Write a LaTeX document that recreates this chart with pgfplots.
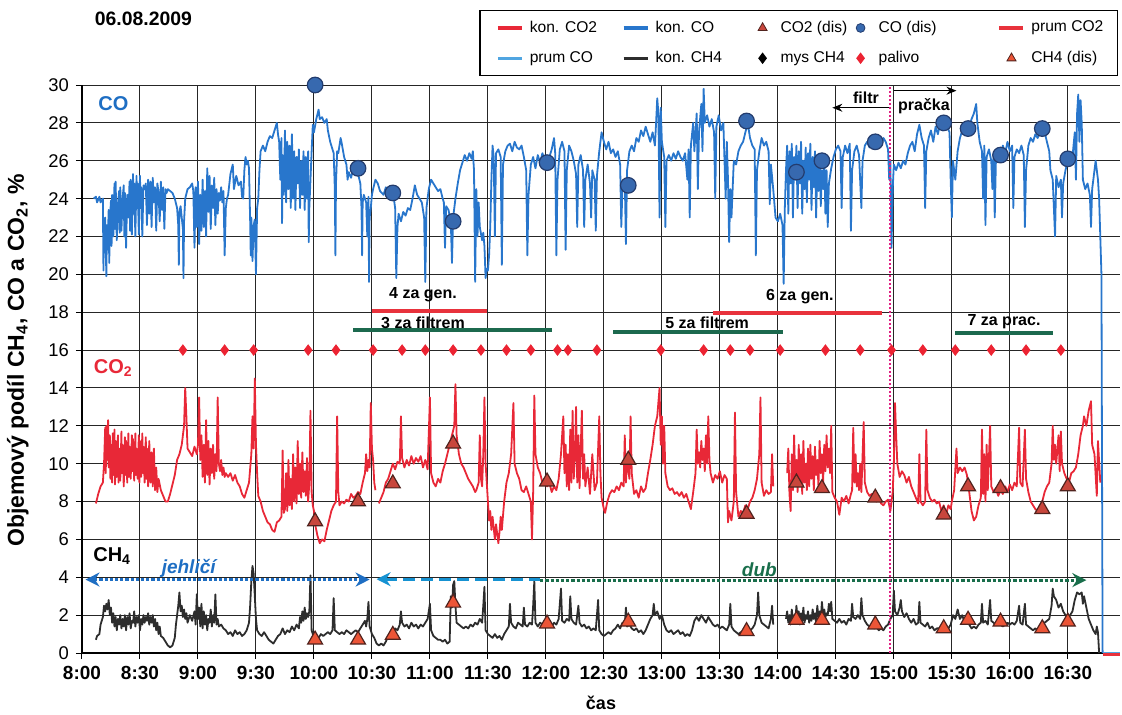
\documentclass[border=0pt]{standalone}
\usepackage{fontspec}
\setmainfont{Liberation Sans}
\usepackage{pgfplots}
\pgfplotsset{compat=1.18}
\usetikzlibrary{arrows.meta}

\definecolor{coline}{RGB}{40,118,204}
\definecolor{coprum}{RGB}{80,165,225}
\definecolor{codot}{RGB}{55,105,175}
\definecolor{codotdark}{RGB}{35,60,110}
\definecolor{coline2}{RGB}{232,40,55}
\definecolor{cotri}{RGB}{200,70,60}
\definecolor{chtri}{RGB}{236,85,55}
\definecolor{tridark}{RGB}{80,35,30}
\definecolor{chline}{RGB}{45,45,45}
\definecolor{palred}{RGB}{236,35,50}
\definecolor{cotext}{RGB}{30,110,195}
\definecolor{dubgreen}{RGB}{25,110,75}
\definecolor{barred}{RGB}{232,50,60}
\definecolor{bargreen}{RGB}{28,105,78}
\definecolor{magline}{RGB}{225,30,130}

\pgfplotsset{
  legline/.style={legend image code/.code={\path[draw=none,fill=none] (0pt,-3pt) rectangle (12pt,3pt); \draw[##1] (0pt,0pt) -- (12pt,0pt);}},
  legmark/.style={legend image code/.code={\path[draw=none,fill=none] (0pt,-3pt) rectangle (12pt,3pt); \draw[##1] plot coordinates {(6pt,0pt)};}},
}

\begin{document}
\begin{tikzpicture}
\begin{axis}[
  at={(0,0)}, anchor=south west,
  scale only axis, width=519pt, height=284pt,
  xmin=8, xmax=16.95, ymin=0, ymax=30,
  clip=false,
  axis x line*=bottom, axis y line*=left,
  axis line style={black, line width=0.6pt},
  xtick={8,8.5,...,16.5},
  xticklabels={8:00,8:30,9:00,9:30,10:00,10:30,11:00,11:30,12:00,12:30,13:00,13:30,14:00,14:30,15:00,15:30,16:00,16:30},
  ytick={0,2,...,30},
  /pgf/number format/assume math mode=true,
  tick align=outside, major tick length=3pt,
  tick style={black, line width=0.5pt},
  grid=major,
  major grid style={black!85, line width=0.5pt},
  x tick label style={font=\fontsize{9.5}{11}\selectfont\bfseries},
  y tick label style={font=\fontsize{9.2}{11}\selectfont},
  xlabel={čas},
  xlabel style={at={(axis description cs:0.5,0)}, anchor=center, yshift=-25pt, font=\fontsize{9}{11}\selectfont\bfseries},
  ylabel={Objemový podíl CH\textsubscript{4}, CO a CO\textsubscript{2}, \%},
  ylabel style={at={(axis description cs:-0.0617,0.515)}, anchor=center, rotate=0, font=\fontsize{11.5}{13}\selectfont\bfseries},
  legend columns=5,
  legend cell align=left,
  legend style={at={(1,1)}, anchor=south east, yshift=4.5pt, xshift=-1pt,
    draw=black, line width=0.6pt, fill=white,
    font=\fontsize{7.8}{9}\selectfont,
    inner xsep=8pt, inner ysep=3pt, row sep=4pt,
    /tikz/every odd column/.append style={column sep=1pt},
    /tikz/every even column/.append style={column sep=0pt}},
]

% legend entries
\addlegendimage{legline, draw=coline2, line width=1.9pt}
\addlegendentry{\makebox[44pt][l]{kon. CO2}}
\addlegendimage{legline, draw=coline, line width=1.9pt}
\addlegendentry{\makebox[45.5pt][l]{kon. CO}}
\addlegendimage{only marks, legmark, mark=triangle*, mark size=2.6pt, mark options={fill=cotri, draw=tridark, line width=0.4pt}}
\addlegendentry{\makebox[32pt][l]{CO2 (dis)}}
\addlegendimage{only marks, legmark, mark=*, mark size=2.2pt, mark options={fill=codot, draw=codotdark, line width=0.4pt}}
\addlegendentry{\makebox[57.5pt][l]{CO (dis)}}
\addlegendimage{legline, draw=barred, line width=1.9pt}
\addlegendentry{\makebox[33pt][l]{prum CO2}}
\addlegendimage{legline, draw=coprum, line width=1.6pt}
\addlegendentry{\makebox[44pt][l]{prum CO}}
\addlegendimage{legline, draw=chline, line width=1.6pt}
\addlegendentry{\makebox[45.5pt][l]{kon. CH4}}
\addlegendimage{only marks, legmark, mark=diamond*, mark size=2.4pt, mark options={fill=black, draw=black}}
\addlegendentry{\makebox[32pt][l]{mys CH4}}
\addlegendimage{only marks, legmark, mark=diamond*, mark size=2.4pt, mark options={fill=palred, draw=palred}}
\addlegendentry{\makebox[57.5pt][l]{palivo}}
\addlegendimage{only marks, legmark, mark=triangle*, mark size=2.6pt, mark options={fill=chtri, draw=tridark, line width=0.4pt}}
\addlegendentry{\makebox[33pt][l]{CH4 (dis)}}

% kon. CO
\addplot[forget plot, coline, line width=0.9pt, line join=round] coordinates {
(8.10,24.0)(8.12,24.1)(8.13,23.8)(8.15,24.1)(8.16,23.8)(8.18,24.0)
(8.185,20.2)(8.19,22.8)(8.20,23.0)(8.21,19.9)(8.215,22.6)(8.22,21.3)(8.23,23.4)(8.235,20.6)(8.24,22.8)(8.25,23.9)(8.255,21.5)(8.26,24.2)(8.27,22.0)(8.28,24.8)(8.285,22.4)(8.29,24.9)(8.30,21.8)(8.31,23.7)(8.32,24.4)(8.325,22.2)(8.33,24.6)(8.34,22.3)
(8.35,24.0)(8.36,24.7)(8.365,22.0)(8.37,24.3)(8.38,21.4)(8.39,24.2)(8.40,23.0)(8.41,24.9)(8.415,22.3)(8.42,25.0)(8.43,22.1)(8.44,25.3)(8.445,23.2)(8.45,24.8)(8.46,22.0)(8.47,25.2)(8.475,23.5)(8.48,24.8)(8.49,22.1)(8.50,25.2)(8.505,23.5)(8.51,24.6)(8.52,22.0)(8.53,24.7)(8.54,24.5)
(8.55,24.8)(8.56,22.6)(8.57,25.0)(8.58,23.2)(8.59,24.9)(8.60,22.5)(8.61,25.1)(8.62,23.8)(8.63,24.6)(8.64,22.3)(8.65,24.8)(8.66,24.3)(8.67,22.8)(8.68,24.9)(8.69,23.4)(8.70,24.6)(8.71,22.4)(8.72,24.5)(8.73,24.3)(8.74,24.5)
(8.76,24.4)(8.78,24.3)(8.80,24.0)(8.82,23.5)(8.83,22.6)(8.835,20.5)(8.84,23.3)(8.85,23.6)(8.86,23.0)(8.87,22.4)(8.875,19.8)(8.88,22.8)(8.89,24.0)(8.91,24.5)(8.93,24.6)(8.95,24.8)(8.96,24.4)
(8.97,21.4)(8.98,24.6)(8.99,22.5)(9.00,24.9)(9.01,21.6)(9.02,24.2)(9.03,22.3)(9.04,25.0)(9.05,22.5)(9.06,24.4)(9.07,22.0)(9.08,25.6)(9.09,23.3)(9.10,25.2)(9.11,22.4)(9.12,24.7)(9.13,23.5)(9.14,25.1)(9.15,22.6)(9.16,24.5)(9.17,23.2)(9.18,24.3)(9.19,23.9)(9.20,24.6)(9.21,23.8)(9.22,24.4)(9.23,21.0)(9.24,23.5)(9.25,24.0)(9.26,24.2)
(9.28,25.3)(9.30,25.8)(9.31,24.5)(9.33,25.2)(9.35,24.7)(9.37,24.9)(9.38,24.1)(9.39,24.0)(9.40,25.5)(9.41,26.2)(9.42,25.8)(9.43,26.0)(9.44,25.6)
(9.45,22.8)(9.455,21.0)(9.46,23.0)(9.47,20.7)(9.48,22.6)(9.49,22.9)(9.50,20.0)(9.51,23.5)(9.52,24.0)(9.53,25.5)(9.54,26.5)(9.56,26.8)(9.58,26.5)(9.60,27.0)(9.62,27.3)(9.64,27.2)(9.66,27.6)(9.68,28.0)(9.69,27.4)
(9.70,27.0)(9.71,25.0)(9.72,27.2)(9.725,22.7)(9.73,26.3)(9.74,24.2)(9.75,27.6)(9.76,23.8)(9.77,27.0)(9.78,24.5)(9.79,26.8)(9.80,23.5)(9.81,27.4)(9.82,24.0)(9.83,26.5)(9.84,23.4)(9.85,26.2)(9.86,24.8)(9.87,26.6)(9.88,23.5)(9.89,26.0)(9.90,24.2)(9.91,26.5)(9.92,23.4)(9.93,26.2)(9.94,24.0)(9.95,26.5)(9.955,21.7)(9.96,23.5)
(9.98,26.5)(9.99,27.9)(10.00,27.5)(10.02,28.2)(10.04,28.7)(10.05,28.2)(10.07,28.3)(10.09,28.0)(10.11,28.2)(10.12,27.6)(10.14,27.0)(10.16,26.6)(10.17,26.4)(10.18,24.5)(10.185,21.0)(10.19,24.8)(10.20,26.5)(10.21,26.4)(10.22,26.8)(10.23,27.2)(10.24,26.9)(10.26,26.2)(10.28,25.8)(10.29,25.0)(10.30,25.4)(10.32,25.1)(10.34,25.6)(10.36,25.5)(10.38,25.3)(10.40,24.8)(10.41,23.5)(10.415,21.0)(10.42,23.8)(10.43,24.2)(10.44,24.0)(10.45,23.8)(10.46,22.0)(10.47,24.1)(10.475,19.6)(10.48,23.0)(10.49,23.5)(10.50,24.2)(10.51,24.5)(10.53,25.0)(10.55,24.8)
(10.57,24.4)(10.60,24.2)(10.62,24.6)(10.64,24.3)(10.66,24.5)(10.68,24.4)(10.70,23.5)(10.71,19.8)(10.72,22.5)(10.73,23.2)(10.75,22.8)(10.77,23.3)(10.79,23.1)(10.81,23.5)(10.83,23.4)(10.85,24.0)(10.87,24.7)(10.89,24.2)(10.91,24.0)(10.93,23.8)(10.95,23.0)(10.96,19.6)(10.97,23.5)(10.99,24.5)(11.01,25.0)(11.03,24.8)(11.05,24.6)(11.07,24.4)(11.09,24.5)(11.11,24.0)(11.12,23.8)(11.13,21.4)(11.14,23.6)(11.16,23.4)(11.18,22.8)(11.19,20.6)(11.20,23.0)(11.22,24.0)(11.24,24.8)(11.26,25.5)(11.28,25.9)(11.30,26.3)(11.32,26.0)(11.34,26.4)(11.36,26.1)(11.37,26.5)(11.38,25.5)(11.39,19.6)(11.40,24.5)(11.41,22.0)(11.42,23.8)(11.43,22.5)(11.45,21.8)(11.46,22.2)(11.47,21.5)(11.48,19.8)(11.49,20.3)(11.50,20.2)(11.51,21.0)(11.52,22.5)(11.53,25.0)(11.54,26.8)(11.55,26.2)(11.56,22.0)(11.57,26.4)(11.59,26.6)(11.61,26.2)(11.62,20.5)(11.63,25.8)(11.65,26.5)(11.67,26.8)(11.69,26.9)(11.71,26.5)(11.73,27.0)(11.75,26.7)(11.77,26.6)(11.79,26.8)(11.81,26.2)(11.83,25.5)(11.84,21.0)(11.85,24.2)(11.87,25.8)(11.89,26.2)(11.91,25.6)(11.93,26.3)(11.95,25.9)(11.97,26.4)(11.99,26.0)(12.01,25.5)(12.03,26.2)(12.05,26.6)(12.07,27.2)(12.08,26.4)(12.09,21.0)(12.10,25.0)(12.12,26.6)(12.14,27.0)(12.16,26.5)(12.17,21.3)(12.18,25.5)(12.20,26.8)(12.22,26.5)(12.24,26.0)(12.26,25.3)(12.27,22.5)(12.28,25.8)(12.30,26.3)(12.32,25.5)(12.33,22.5)(12.34,25.0)(12.36,25.8)(12.38,24.8)(12.39,23.0)(12.40,25.5)(12.42,25.0)(12.43,22.3)(12.44,25.2)(12.46,26.5)(12.48,27.5)(12.50,27.0)(12.52,26.6)(12.54,27.0)(12.56,26.4)(12.58,26.6)(12.60,26.2)(12.62,26.5)(12.64,25.8)(12.65,22.5)(12.66,24.6)(12.68,25.0)(12.69,21.6)(12.70,25.5)(12.72,26.5)(12.74,26.8)(12.76,26.5)(12.78,27.2)(12.80,27.0)(12.82,27.6)(12.84,27.3)(12.86,27.8)(12.88,27.4)(12.90,27.0)(12.92,27.5)(12.94,26.8)(12.95,28.0)(12.96,29.3)(12.97,28.5)(12.98,23.0)(12.99,28.8)(13.00,27.0)(13.02,26.2)(13.03,22.5)(13.04,26.0)(13.06,26.3)(13.08,26.0)(13.10,26.4)(13.12,26.1)(13.14,26.5)(13.16,26.2)(13.18,26.0)(13.20,26.4)(13.22,25.0)(13.23,26.6)(13.24,23.0)(13.25,26.8)(13.27,28.0)(13.28,26.5)(13.30,28.5)(13.31,24.5)(13.32,27.5)(13.34,29.0)(13.35,26.5)(13.36,29.8)(13.37,28.0)(13.39,28.4)(13.41,27.8)(13.43,28.2)(13.45,27.5)(13.46,24.0)(13.47,27.8)(13.49,28.4)(13.51,27.6)(13.53,28.0)(13.55,24.0)(13.56,27.0)(13.57,25.0)(13.58,21.7)(13.59,24.5)(13.60,23.0)(13.62,26.0)(13.64,25.8)(13.66,26.5)(13.68,26.8)(13.70,27.0)(13.72,27.5)(13.74,28.0)
(13.76,27.2)(13.78,26.8)(13.80,26.6)(13.81,21.0)(13.82,25.5)(13.84,26.5)(13.86,27.2)(13.88,26.8)(13.90,27.0)(13.92,26.5)(13.93,23.7)(13.94,25.8)(13.96,24.5)(13.98,23.0)(14.00,22.8)(14.02,23.2)(14.04,22.6)(14.05,19.5)(14.06,23.5)(14.07,25.5)(14.08,26.8)(14.09,23.2)(14.10,26.5)(14.11,24.8)(14.12,26.9)(14.13,23.0)(14.14,26.2)(14.15,25.0)(14.16,26.8)(14.17,23.5)(14.18,26.5)(14.19,24.8)(14.20,27.0)(14.21,23.2)(14.22,26.0)(14.23,24.5)(14.24,26.7)(14.25,23.8)(14.26,26.4)(14.27,25.0)(14.28,26.9)(14.29,23.4)(14.30,26.2)(14.31,24.6)(14.32,26.5)(14.33,23.0)(14.34,25.8)(14.35,24.4)(14.36,26.3)(14.37,23.6)(14.38,25.5)(14.39,24.5)(14.40,26.0)(14.41,23.2)(14.42,25.5)(14.43,22.5)(14.44,24.8)(14.46,25.6)(14.48,26.2)(14.50,26.6)(14.52,26.8)(14.54,26.5)(14.55,23.5)(14.56,26.2)(14.58,26.8)(14.60,26.4)(14.62,26.9)(14.63,22.3)(14.64,25.5)(14.66,26.5)(14.68,26.8)(14.70,26.3)(14.72,23.5)(14.73,26.0)(14.75,26.8)(14.77,27.0)(14.79,26.7)(14.81,27.2)(14.83,26.8)(14.85,26.9)(14.87,27.1)(14.89,26.8)(14.91,27.2)(14.93,27.0)(14.95,26.6)(14.96,25.0)(14.97,26.0)(14.98,21.4)(14.99,24.5)(15.00,25.8)(15.02,25.5)(15.04,25.9)(15.06,25.6)(15.08,26.0)(15.10,25.8)(15.12,26.4)(15.14,26.8)(15.16,27.0)(15.18,26.5)(15.20,27.4)(15.22,27.9)(15.24,27.2)(15.26,26.8)(15.27,23.5)(15.28,26.5)(15.30,27.2)(15.32,27.6)(15.34,27.0)(15.36,27.8)(15.38,27.4)(15.40,28.0)(15.42,27.6)(15.44,28.3)(15.46,27.8)(15.48,27.5)(15.49,25.0)(15.50,23.0)(15.51,26.0)(15.53,25.0)(15.55,26.5)(15.57,27.2)(15.59,27.6)(15.61,27.8)(15.63,28.0)(15.65,27.8)(15.67,28.2)(15.69,28.5)(15.71,29.0)(15.72,28.0)(15.74,27.0)(15.76,26.5)(15.77,24.0)(15.78,26.8)(15.79,22.6)(15.80,26.2)(15.82,26.6)(15.84,26.0)(15.85,24.5)(15.86,26.4)(15.87,23.0)(15.88,26.0)(15.90,26.6)(15.92,26.2)(15.94,26.8)(15.96,26.4)(15.98,27.0)(16.00,26.5)(16.02,26.8)(16.03,23.5)(16.04,26.2)(16.06,26.6)(16.08,26.4)(16.10,26.8)(16.12,26.3)(16.13,22.5)(16.14,25.5)(16.16,26.8)(16.18,27.2)(16.20,27.0)(16.22,27.4)(16.24,27.2)(16.26,27.5)(16.28,27.3)(16.30,27.5)(16.32,27.0)(16.34,26.5)(16.35,25.5)(16.37,25.0)(16.39,22.0)(16.40,25.2)(16.42,24.6)(16.44,25.0)(16.45,23.0)(16.46,24.8)(16.48,25.5)(16.50,26.0)(16.52,26.4)(16.54,26.2)(16.56,27.5)(16.57,25.0)(16.58,28.5)(16.59,29.5)(16.60,27.0)(16.61,29.2)(16.62,28.0)(16.63,25.0)(16.65,24.5)(16.67,24.8)(16.69,24.2)(16.70,22.5)(16.71,24.5)(16.73,25.5)(16.74,26.0)(16.76,25.0)(16.77,24.0)(16.79,20.0)(16.80,0)
};

% kon. CO2
\addplot[forget plot, coline2, line width=0.9pt, line join=round, unbounded coords=jump] coordinates {
(8.12,7.9)(8.14,8.4)(8.16,8.8)(8.18,9.0)(8.19,10.0)(8.20,11.9)(8.205,9.5)(8.21,12.0)(8.22,10.2)(8.225,12.3)(8.23,9.8)(8.24,11.5)(8.245,9.2)(8.25,11.0)(8.26,9.0)(8.265,11.6)(8.27,9.4)(8.28,11.8)(8.285,8.9)(8.29,11.2)(8.30,9.3)(8.31,11.5)(8.315,9.0)(8.32,10.8)(8.33,9.1)(8.34,11.7)(8.345,9.5)(8.35,11.0)(8.36,8.8)(8.37,11.4)(8.375,9.4)(8.38,11.2)(8.39,9.0)(8.40,11.6)(8.405,9.3)(8.41,10.9)(8.42,9.2)(8.43,11.5)(8.435,9.6)(8.44,11.3)(8.45,9.1)(8.46,11.6)(8.465,9.4)(8.47,10.8)(8.48,9.2)(8.49,11.5)(8.495,9.0)(8.50,11.2)(8.51,9.3)(8.52,11.6)(8.525,9.5)(8.53,10.9)(8.54,9.0)(8.55,11.4)(8.555,9.2)(8.56,10.8)(8.57,8.8)(8.58,11.2)(8.59,9.0)(8.60,10.6)(8.61,8.8)(8.62,10.8)(8.63,8.6)(8.64,9.8)(8.65,8.5)(8.66,9.2)(8.68,8.6)(8.70,8.3)(8.72,8.0)(8.74,8.0)(8.76,8.4)(8.78,8.9)(8.80,9.4)(8.82,10.2)(8.84,10.5)(8.86,11.0)(8.88,12.0)(8.89,14.0)(8.90,12.5)(8.91,10.8)(8.93,10.6)(8.95,10.4)(8.97,10.9)(8.99,10.5)(9.00,11.0)(9.01,13.5)(9.02,10.2)(9.03,11.5)(9.04,9.3)(9.05,11.0)(9.06,9.0)(9.07,12.3)(9.08,9.4)(9.09,11.2)(9.10,8.9)(9.11,10.8)(9.12,9.5)(9.13,11.0)(9.14,9.2)(9.15,10.5)(9.16,9.6)(9.17,13.5)(9.18,10.0)(9.19,9.6)(9.20,10.2)(9.21,9.4)(9.22,9.8)(9.23,9.3)(9.24,9.5)(9.26,9.3)(9.28,9.5)(9.30,9.1)(9.32,9.4)(9.34,9.0)(9.36,8.8)(9.38,8.4)(9.40,8.2)(9.42,8.6)(9.44,9.0)(9.46,10.5)(9.47,12.5)(9.48,10.8)(9.49,14.5)(9.50,11.0)(9.51,9.5)(9.52,8.3)(9.54,8.0)(9.56,7.5)(9.58,7.2)(9.60,6.9)(9.62,6.8)(9.64,6.5)(9.66,6.4)(9.68,6.9)(9.70,7.0)(9.72,7.2)(9.73,10.7)(9.74,7.4)(9.75,7.6)(9.76,9.5)(9.77,7.5)(9.78,10.2)(9.79,7.8)(9.80,9.2)(9.81,7.6)(9.82,10.5)(9.83,8.0)(9.84,9.8)(9.85,7.9)(9.86,11.2)(9.87,8.4)(9.88,10.0)(9.89,8.2)(9.90,10.6)(9.91,8.5)(9.92,9.6)(9.93,8.3)(9.94,10.3)(9.95,8.0)(9.96,9.0)(9.97,12.8)(9.98,8.5)(9.99,7.8)(10.00,7.5)(10.01,6.8)(10.03,6.2)(10.05,5.8)(10.07,6.0)(10.09,5.9)(10.11,6.5)(10.13,7.0)(10.15,7.5)(10.17,7.8)(10.19,8.0)(10.20,12.5)(10.21,8.5)(10.22,7.8)(10.24,8.0)(10.26,7.9)(10.28,8.1)(10.30,8.0)(10.32,8.4)(10.34,8.2)(10.36,8.3)(10.38,8.5)(10.40,8.4)(10.42,9.0)(10.44,9.5)(10.45,10.5)(10.46,9.6)(10.47,10.2)(10.48,9.8)(10.49,13.2)(10.50,10.8)(10.51,10.2)(10.52,9.0)(10.53,8.6)(10.545,nan)
(10.56,7.9)(10.58,8.2)(10.60,8.5)(10.62,9.0)(10.64,9.2)(10.66,9.6)(10.68,10.0)(10.70,9.7)(10.72,10.1)(10.74,10.0)(10.75,12.5)(10.76,10.3)(10.78,9.8)(10.80,10.2)(10.82,9.9)(10.84,10.4)(10.86,10.0)(10.88,10.3)(10.90,10.1)(10.92,10.4)(10.94,9.8)(10.96,10.2)(10.98,9.7)(11.00,13.5)(11.01,9.5)(11.03,9.0)(11.05,8.8)(11.07,9.2)(11.09,9.0)(11.11,9.6)(11.13,10.0)(11.15,10.5)(11.17,11.0)(11.19,11.5)(11.21,12.0)(11.22,14.2)(11.23,11.5)(11.25,10.5)(11.27,10.0)(11.29,9.8)(11.31,9.5)(11.33,9.2)(11.35,9.0)(11.37,8.8)(11.39,8.5)
(11.40,8.6)(11.42,9.0)(11.43,11.5)(11.44,9.2)(11.45,8.8)(11.46,10.5)(11.47,13.5)(11.48,10.0)(11.50,8.0)(11.51,7.0)(11.52,7.5)(11.53,6.5)(11.54,7.2)(11.56,6.0)(11.57,6.8)(11.59,5.8)(11.60,6.4)(11.61,7.2)(11.62,6.5)(11.64,8.0)(11.66,9.0)(11.68,9.5)(11.70,10.5)(11.72,13.2)(11.73,10.0)(11.75,9.5)(11.77,9.2)(11.79,8.6)(11.81,8.5)(11.83,8.8)(11.85,8.4)(11.87,8.0)(11.88,6.0)(11.89,8.5)(11.90,13.6)(11.91,10.5)(11.93,9.8)(11.95,9.5)(11.97,9.0)(11.99,9.2)(12.01,8.8)(12.03,9.0)(12.05,8.5)(12.07,8.8)(12.09,8.6)(12.11,9.2)(12.13,10.5)(12.15,12.5)(12.16,9.5)(12.17,11.0)(12.18,8.8)(12.19,10.5)(12.20,8.6)(12.21,11.8)(12.22,9.0)(12.23,12.8)(12.24,9.2)(12.25,10.4)(12.26,13.0)(12.27,9.0)(12.28,11.5)(12.29,8.7)(12.30,10.8)(12.31,12.8)(12.32,9.2)(12.33,10.5)(12.34,8.8)(12.36,9.8)(12.38,8.4)(12.40,10.5)(12.42,8.6)(12.44,9.0)(12.46,12.5)(12.47,9.5)(12.48,8.2)(12.50,7.6)(12.51,7.4)(12.53,8.0)(12.55,8.4)(12.57,8.6)(12.59,8.5)(12.61,8.8)(12.63,8.6)(12.65,9.0)(12.67,8.8)(12.68,11.5)(12.69,9.0)(12.70,10.2)(12.72,9.2)(12.73,12.5)(12.74,9.5)(12.76,8.4)(12.78,8.6)(12.80,8.2)(12.82,8.8)(12.84,8.5)(12.86,8.7)(12.88,9.5)(12.90,10.2)(12.92,11.0)(12.94,12.0)(12.96,12.5)(12.98,14.0)(12.99,11.0)(13.00,12.5)(13.01,10.0)(13.02,12.0)(13.03,9.5)(13.05,8.8)(13.07,8.6)(13.09,8.7)(13.11,8.4)(13.13,8.5)(13.15,8.3)(13.17,8.5)(13.19,8.2)(13.21,8.4)(13.23,8.0)(13.24,7.8)(13.25,7.6)(13.27,8.5)(13.29,9.5)(13.30,11.8)(13.31,10.0)(13.32,10.6)(13.33,9.8)(13.34,11.2)(13.35,10.2)(13.36,10.8)(13.37,9.6)(13.38,11.5)(13.39,10.0)(13.40,12.5)(13.41,10.2)(13.42,9.5)(13.44,9.0)(13.46,9.4)(13.48,9.2)(13.50,9.6)(13.52,9.0)(13.54,9.4)(13.56,9.2)(13.57,6.9)(13.58,7.5)(13.60,7.0)(13.62,8.0)(13.63,12.7)(13.64,8.5)(13.66,7.2)(13.68,7.5)(13.70,7.4)(13.72,7.8)(13.74,7.6)(13.76,8.0)(13.78,8.2)(13.80,8.6)(13.82,9.2)(13.84,10.5)(13.85,13.5)(13.86,9.0)(13.88,8.3)(13.90,8.6)(13.92,8.4)(13.94,8.5)(13.95,10.5)(13.96,8.8)(14.00,nan)
(14.08,9.5)(14.09,10.8)(14.10,8.4)(14.11,7.5)(14.12,10.5)(14.13,8.6)(14.14,11.5)(14.15,9.0)(14.16,10.2)(14.17,8.5)(14.18,11.0)(14.19,8.8)(14.20,10.5)(14.21,8.4)(14.22,11.2)(14.23,9.0)(14.24,10.0)(14.25,8.6)(14.26,10.8)(14.27,8.8)(14.28,11.0)(14.29,9.2)(14.30,10.4)(14.31,8.6)(14.32,10.9)(14.33,9.4)(14.34,10.2)(14.35,8.8)(14.36,11.2)(14.37,9.5)(14.38,10.5)(14.39,9.0)(14.40,11.0)(14.41,9.6)(14.42,11.5)(14.43,9.8)(14.44,10.8)(14.45,9.5)(14.46,12.0)(14.47,8.5)(14.49,8.2)(14.51,8.0)(14.53,7.3)(14.55,8.2)(14.57,8.0)(14.59,8.3)(14.61,7.9)(14.63,8.4)(14.64,8.6)(14.65,11.9)(14.66,9.0)(14.67,10.5)(14.68,8.8)(14.69,9.5)(14.70,8.6)(14.71,10.0)(14.72,8.5)(14.74,12.2)(14.75,9.0)(14.77,8.5)(14.79,8.3)(14.81,8.4)(14.83,8.2)(14.85,8.0)(14.87,8.2)(14.89,7.9)(14.91,7.8)(14.93,8.0)(14.95,8.1)(14.97,7.5)(14.99,8.5)(15.00,10.0)(15.01,13.2)(15.02,11.5)(15.03,10.0)(15.05,9.3)(15.07,9.6)(15.09,9.4)(15.11,9.0)(15.13,9.3)(15.15,8.8)(15.17,8.5)(15.19,8.2)(15.21,7.9)(15.22,10.5)(15.23,8.0)(15.25,7.8)(15.27,8.0)(15.28,11.8)(15.29,8.6)(15.31,8.2)(15.33,8.0)(15.35,8.1)(15.37,7.9)(15.39,8.0)(15.41,7.5)(15.43,7.8)(15.45,7.3)(15.47,7.8)(15.49,7.6)(15.50,8.0)(15.52,8.6)(15.54,10.8)(15.55,9.5)(15.57,9.8)(15.59,9.6)(15.61,9.8)(15.63,9.4)(15.65,8.5)(15.67,7.5)(15.69,7.0)(15.71,7.2)(15.73,7.8)(15.75,8.2)(15.76,11.8)(15.77,8.4)(15.78,10.5)(15.79,8.0)(15.80,11.0)(15.81,8.6)(15.83,12.0)(15.84,8.8)(15.86,8.5)(15.88,8.7)(15.90,8.3)(15.92,8.6)(15.94,8.4)(15.96,8.8)(15.98,8.5)(16.00,8.9)(16.02,8.6)(16.04,9.0)(16.06,8.8)(16.08,11.9)(16.09,9.0)(16.11,8.8)(16.13,11.8)(16.14,9.2)(16.16,8.5)(16.18,8.0)(16.20,7.8)(16.22,7.6)(16.24,7.5)(16.26,7.8)(16.28,8.0)(16.30,8.5)(16.32,8.8)(16.34,9.0)(16.36,10.0)(16.37,12.0)(16.38,10.2)(16.39,11.0)(16.40,10.0)(16.42,11.5)(16.43,9.6)(16.44,11.7)(16.45,10.0)(16.47,9.5)(16.49,9.2)(16.51,9.0)(16.53,9.5)(16.55,9.6)(16.57,9.8)(16.59,10.5)(16.61,11.5)(16.63,12.0)(16.64,12.5)(16.66,12.0)(16.68,12.8)(16.70,13.3)(16.71,11.0)(16.73,10.5)(16.75,8.3)(16.76,11.2)(16.78,9.0)
};

% kon. CH4
\addplot[forget plot, chline, line width=0.9pt, line join=round, unbounded coords=jump] coordinates {
(8.12,0.7)(8.13,0.9)(8.15,1.0)(8.16,1.5)(8.18,1.9)(8.19,2.5)(8.20,2.2)(8.21,2.6)(8.22,2.3)(8.23,2.8)(8.24,2.0)(8.25,2.4)(8.26,1.6)(8.27,2.1)(8.28,1.4)(8.29,1.9)(8.30,1.2)(8.31,1.8)(8.32,1.5)(8.33,2.0)(8.34,1.3)(8.35,1.8)(8.36,1.4)(8.37,2.0)(8.38,1.2)(8.39,1.9)(8.40,1.5)(8.41,2.1)(8.42,1.3)(8.43,1.7)(8.44,1.6)(8.45,2.2)(8.46,1.4)(8.47,1.9)(8.48,1.6)(8.49,2.0)(8.50,1.2)(8.51,1.8)(8.52,1.5)(8.53,2.0)(8.54,1.6)(8.55,1.9)(8.56,1.7)(8.57,2.1)(8.58,1.5)(8.59,1.9)(8.60,1.6)(8.61,2.0)(8.62,1.4)(8.63,1.8)(8.64,1.2)(8.65,1.6)(8.66,1.0)(8.67,1.4)(8.68,0.9)(8.70,0.8)(8.72,0.6)(8.74,0.4)(8.76,0.3)(8.78,0.4)(8.80,0.8)(8.81,1.5)(8.82,2.0)(8.83,2.5)(8.84,3.2)(8.85,2.2)(8.86,2.5)(8.87,1.9)(8.88,2.3)(8.89,1.8)(8.90,2.1)(8.91,1.6)(8.93,2.0)(8.95,1.7)(8.97,2.2)(8.98,1.5)(8.99,3.1)(9.00,1.8)(9.01,2.4)(9.02,1.4)(9.03,2.6)(9.04,1.3)(9.05,2.2)(9.06,1.5)(9.07,2.0)(9.08,1.2)(9.09,1.8)(9.10,1.6)(9.11,2.3)(9.12,1.4)(9.13,2.0)(9.14,1.6)(9.15,3.1)(9.16,1.5)(9.17,1.8)(9.18,1.4)(9.20,1.5)(9.22,1.3)(9.24,1.2)(9.26,1.0)(9.28,1.1)(9.30,0.9)(9.32,1.2)(9.34,1.0)(9.36,1.1)(9.38,0.9)(9.40,1.0)(9.42,1.2)(9.44,1.6)(9.45,2.5)(9.46,3.8)(9.47,4.6)(9.48,4.2)(9.49,3.0)(9.50,1.8)(9.51,1.2)(9.53,1.0)(9.55,0.9)(9.57,1.1)(9.59,0.9)(9.61,0.7)(9.63,0.6)(9.65,0.5)(9.67,0.7)(9.69,0.9)(9.71,1.0)(9.73,1.3)(9.75,1.0)(9.77,1.2)(9.79,1.1)(9.81,1.4)(9.83,1.2)(9.85,1.5)(9.87,1.3)(9.88,1.9)(9.89,1.6)(9.90,2.2)(9.91,1.7)(9.92,2.4)(9.93,1.8)(9.94,2.1)(9.95,1.9)(9.96,2.2)(9.97,4.1)(9.98,1.2)(10.00,0.8)(10.02,0.9)(10.04,0.8)(10.06,1.0)(10.08,0.9)(10.10,1.0)(10.12,1.1)(10.14,1.0)(10.16,1.2)(10.17,2.9)(10.18,1.2)(10.20,1.1)(10.22,1.0)(10.24,1.1)(10.26,1.0)(10.28,1.2)(10.30,1.1)(10.32,1.0)(10.34,1.1)(10.36,1.2)(10.38,1.1)(10.40,1.3)(10.42,1.5)(10.44,1.7)(10.45,1.4)(10.46,1.8)(10.47,2.7)(10.48,1.4)(10.50,1.0)(10.52,0.8)(10.54,0.5)(10.56,0.4)(10.58,0.5)(10.60,0.4)(10.62,0.6)(10.64,0.9)(10.66,1.0)(10.68,1.1)(10.70,1.3)(10.72,1.2)(10.74,1.5)(10.75,2.2)(10.76,1.6)(10.78,1.4)(10.80,1.5)(10.82,1.3)(10.84,1.6)(10.86,1.4)(10.88,1.5)(10.90,1.3)(10.92,1.5)(10.94,1.4)(10.96,1.6)(10.98,1.8)(11.00,2.6)(11.01,1.2)(11.03,0.9)(11.05,0.8)(11.07,0.7)(11.09,0.7)(11.11,0.6)(11.13,0.7)(11.15,0.5)(11.17,0.6)(11.18,3.0)(11.19,2.4)(11.20,3.6)(11.21,3.8)(11.22,2.5)(11.23,1.6)(11.25,1.5)(11.27,1.4)(11.29,1.3)(11.31,1.4)(11.33,1.3)(11.35,1.5)(11.37,1.4)(11.39,1.6)(11.41,1.5)(11.43,1.8)(11.45,1.6)(11.46,2.5)(11.47,3.5)(11.48,1.2)(11.50,1.0)(11.52,0.9)(11.54,0.8)(11.56,1.0)(11.58,0.8)(11.60,0.9)(11.62,0.7)(11.64,1.0)(11.66,1.2)(11.68,1.4)(11.69,2.6)(11.70,1.6)(11.72,1.4)(11.74,1.3)(11.76,1.6)(11.78,1.5)(11.80,1.4)(11.81,2.4)(11.82,1.5)(11.84,1.4)(11.86,1.6)(11.88,1.5)(11.89,2.5)(11.90,3.8)(11.91,1.6)(11.93,1.4)(11.95,1.6)(11.97,1.5)(11.99,1.7)(12.01,1.5)(12.03,1.6)(12.05,1.4)(12.07,1.6)(12.09,1.5)(12.11,1.8)(12.13,3.4)(12.14,1.7)(12.16,1.6)(12.18,1.8)(12.20,1.7)(12.21,3.0)(12.22,1.8)(12.24,1.6)(12.26,1.5)(12.28,2.5)(12.29,1.6)(12.31,1.4)(12.33,1.5)(12.35,1.3)(12.37,1.4)(12.39,1.2)(12.41,1.3)(12.43,1.2)(12.45,2.8)(12.46,1.2)(12.48,1.0)(12.50,0.9)(12.52,1.0)(12.54,1.1)(12.56,1.0)(12.58,1.2)(12.60,1.3)(12.62,1.5)(12.64,1.3)(12.66,1.6)(12.68,1.5)(12.69,2.4)(12.70,1.4)(12.72,1.5)(12.74,1.3)(12.76,1.2)(12.78,1.3)(12.80,1.1)(12.82,1.2)(12.84,1.0)(12.86,1.2)(12.88,1.5)(12.90,1.8)(12.92,2.0)(12.93,2.6)(12.94,2.0)(12.96,2.2)(12.98,1.8)(13.00,2.0)(13.02,1.5)(13.04,1.2)(13.06,1.1)(13.08,1.2)(13.10,1.0)(13.12,1.1)(13.14,1.2)(13.16,1.0)(13.18,1.1)(13.20,0.9)(13.22,1.0)(13.24,0.9)(13.26,1.2)(13.28,1.7)(13.30,1.9)(13.32,1.7)(13.34,2.0)(13.36,1.8)(13.38,1.6)(13.40,1.9)(13.42,1.7)(13.44,1.5)(13.46,1.4)(13.48,1.5)(13.50,1.3)(13.52,1.4)(13.54,1.3)(13.56,1.2)(13.58,1.5)(13.59,2.6)(13.60,1.4)(13.62,1.2)(13.64,1.1)(13.66,1.0)(13.68,1.1)(13.70,1.0)(13.72,1.2)(13.74,1.1)(13.76,1.2)(13.78,1.3)(13.80,1.5)(13.82,2.0)(13.83,3.2)(13.84,2.0)(13.86,1.6)(13.88,1.5)(13.90,1.4)(13.92,1.3)(13.94,1.8)(13.95,2.5)(13.96,1.5)(14.00,nan)
(14.07,1.8)(14.08,2.2)(14.09,1.6)(14.10,2.0)(14.11,1.5)(14.12,2.3)(14.13,1.7)(14.14,2.0)(14.15,1.6)(14.16,2.5)(14.17,1.8)(14.18,2.2)(14.19,1.5)(14.20,2.1)(14.21,1.7)(14.22,2.4)(14.23,1.6)(14.24,2.0)(14.25,1.8)(14.26,2.2)(14.27,1.6)(14.28,2.0)(14.29,1.7)(14.30,2.3)(14.31,1.8)(14.32,2.1)(14.33,1.6)(14.34,2.5)(14.35,1.9)(14.36,2.2)(14.37,1.8)(14.38,2.7)(14.39,2.0)(14.40,2.3)(14.41,1.9)(14.42,2.1)(14.43,2.0)(14.44,2.6)(14.45,2.2)(14.46,2.7)(14.47,1.8)(14.49,1.7)(14.51,1.6)(14.53,1.8)(14.55,1.6)(14.57,1.7)(14.59,1.5)(14.61,1.8)(14.63,1.7)(14.64,2.6)(14.65,1.9)(14.67,1.8)(14.69,2.0)(14.71,1.8)(14.72,2.9)(14.73,2.0)(14.75,1.7)(14.77,1.5)(14.79,1.4)(14.81,1.5)(14.83,1.3)(14.85,1.4)(14.87,1.2)(14.89,1.3)(14.91,1.2)(14.93,1.4)(14.95,1.5)(14.97,1.8)(14.99,2.0)(15.00,3.3)(15.01,2.2)(15.03,2.0)(15.05,2.4)(15.06,2.8)(15.07,2.2)(15.09,1.9)(15.11,2.1)(15.13,1.8)(15.15,1.6)(15.17,1.8)(15.19,1.5)(15.21,1.6)(15.22,2.7)(15.23,1.6)(15.25,1.5)(15.27,1.4)(15.29,1.6)(15.31,1.3)(15.33,1.4)(15.35,1.2)(15.37,1.3)(15.39,1.3)(15.41,1.2)(15.43,1.4)(15.45,1.3)(15.47,1.3)(15.49,1.5)(15.51,2.0)(15.53,1.8)(15.55,2.3)(15.57,1.8)(15.59,2.0)(15.61,1.6)(15.63,1.8)(15.65,1.5)(15.67,1.3)(15.69,1.4)(15.71,1.3)(15.73,1.5)(15.75,1.6)(15.76,2.6)(15.77,1.6)(15.79,1.7)(15.81,1.5)(15.83,2.8)(15.84,1.7)(15.86,1.6)(15.88,1.5)(15.90,1.6)(15.92,1.5)(15.94,1.4)(15.96,1.5)(15.98,1.6)(16.00,1.5)(16.02,1.6)(16.04,1.5)(16.06,1.7)(16.08,2.5)(16.09,1.6)(16.11,1.5)(16.13,2.6)(16.14,1.5)(16.16,1.4)(16.18,1.3)(16.20,1.2)(16.22,1.3)(16.24,1.2)(16.26,1.3)(16.28,1.5)(16.30,1.6)(16.32,1.7)(16.34,1.8)(16.36,2.5)(16.37,3.4)(16.38,3.0)(16.40,2.8)(16.42,2.4)(16.44,2.6)(16.46,2.2)(16.48,2.0)(16.50,1.8)(16.52,2.0)(16.54,2.2)(16.56,2.8)(16.58,3.2)(16.60,3.1)(16.62,3.2)(16.63,2.6)(16.64,3.0)(16.66,2.4)(16.68,1.8)(16.70,1.5)(16.72,1.2)(16.74,1.0)(16.75,1.4)(16.76,1.1)(16.77,0)
};

% prum values at zero at the end
\addplot[forget plot, barred, line width=1.4pt] coordinates {(16.80,-0.08)(16.95,-0.08)};
\addplot[forget plot, coprum, line width=0.6pt] coordinates {(16.80,0.02)(16.95,0.02)};

% sample periods
\addplot[forget plot, barred, line width=2pt] coordinates {(10.50,18.05)(11.49,18.05)};
\addplot[forget plot, bargreen, line width=2pt] coordinates {(10.34,17.05)(12.05,17.05)};
\addplot[forget plot, bargreen, line width=2pt] coordinates {(12.58,16.95)(14.04,16.95)};
\addplot[forget plot, barred, line width=2pt] coordinates {(13.44,17.95)(14.90,17.95)};
\addplot[forget plot, bargreen, line width=2pt] coordinates {(15.53,16.9)(16.37,16.9)};

% fuel change arrows
\addplot[forget plot, cotext, line width=1.6pt, densely dotted, {Stealth[length=7pt,width=7pt]}-{Stealth[length=7pt,width=7pt]}] coordinates {(8.03,3.88)(10.48,3.88)};
\addplot[forget plot, cotext!75!cyan, line width=1.6pt, dash pattern=on 6pt off 3pt, {Stealth[length=7pt,width=7pt]}-] coordinates {(10.54,3.9)(11.95,3.9)};
\addplot[forget plot, dubgreen, line width=1.6pt, densely dotted, -{Stealth[length=7pt,width=7pt]}] coordinates {(11.95,3.85)(16.66,3.85)};

% filter / washer switch
\addplot[forget plot, magline, line width=1pt, densely dotted] coordinates {(14.97,0)(14.97,30)};
\addplot[forget plot, black, line width=0.6pt, -{Stealth[length=5pt,width=4pt]}] coordinates {(14.96,28.8)(14.47,28.8)};
\addplot[forget plot, black, line width=0.6pt, -{Stealth[length=5pt,width=4pt]}] coordinates {(15.00,29.7)(15.54,29.7)};

% palivo
\addplot[forget plot, only marks, mark=diamond*, mark size=2.6pt, mark options={fill=palred, draw=palred}] coordinates {
(8.87,16)(9.23,16)(9.48,16)(9.95,16)(10.19,16)(10.51,16)(10.76,16)(10.96,16)(11.20,16)(11.44,16)(11.66,16)(11.87,16)(12.10,16)(12.19,16)(12.44,16)(12.99,16)(13.36,16)(13.59,16)(13.76,16)(14.02,16)(14.41,16)(14.71,16)(14.98,16)(15.25,16)(15.53,16)(15.84,16)(16.14,16)(16.44,16)
};

% CO (dis)
\addplot[forget plot, only marks, mark=*, mark size=3.9pt, mark options={fill=codot, draw=codotdark, line width=0.6pt}] coordinates {
(10.01,30.0)(10.38,25.6)(10.68,24.3)(11.20,22.8)(12.01,25.9)(12.71,24.7)(13.73,28.1)(14.16,25.4)(14.38,26.0)(14.84,27.0)(15.43,28.0)(15.64,27.7)(15.92,26.3)(16.28,27.7)(16.50,26.1)
};

% CO2 (dis)
\addplot[forget plot, only marks, mark=triangle*, mark size=4.3pt, mark options={fill=cotri, draw=tridark, line width=0.6pt}] coordinates {
(10.01,6.95)(10.38,8.0)(10.68,8.95)(11.20,11.05)(12.01,9.05)(12.71,10.2)(13.73,7.35)(14.16,9.0)(14.38,8.7)(14.84,8.2)(15.43,7.3)(15.64,8.8)(15.92,8.7)(16.28,7.6)(16.50,8.8)
};

% CH4 (dis)
\addplot[forget plot, only marks, mark=triangle*, mark size=4.3pt, mark options={fill=chtri, draw=tridark, line width=0.6pt}] coordinates {
(10.01,0.7)(10.38,0.7)(10.68,0.95)(11.20,2.65)(12.01,1.55)(12.71,1.65)(13.73,1.15)(14.16,1.75)(14.38,1.75)(14.84,1.5)(15.43,1.3)(15.64,1.75)(15.92,1.65)(16.28,1.3)(16.50,1.65)
};

% labels
\node[text=cotext, font=\fontsize{10}{12}\selectfont\bfseries] at (axis cs:8.27,29.0) {CO};
\node[text=coline2, font=\fontsize{10}{12}\selectfont\bfseries] at (axis cs:8.27,15.05) {CO\textsubscript{2}};
\node[text=black, font=\fontsize{10}{12}\selectfont\bfseries] at (axis cs:8.26,5.1) {CH\textsubscript{4}};
\node[text=cotext, font=\fontsize{9.5}{11}\selectfont\bfseries\itshape] at (axis cs:8.92,4.45) {jehličí};
\node[text=dubgreen, font=\fontsize{9.5}{11}\selectfont\bfseries\itshape] at (axis cs:13.84,4.4) {dub};
\node[font=\fontsize{8}{10}\selectfont\bfseries] at (axis cs:10.94,18.95) {4 za gen.};
\node[font=\fontsize{8}{10}\selectfont\bfseries] at (axis cs:10.94,17.45) {3 za filtrem};
\node[font=\fontsize{8}{10}\selectfont\bfseries] at (axis cs:13.39,17.45) {5 za filtrem};
\node[font=\fontsize{8}{10}\selectfont\bfseries] at (axis cs:14.19,18.8) {6 za gen.};
\node[font=\fontsize{8}{10}\selectfont\bfseries] at (axis cs:15.95,17.5) {7 za prac.};
\node[font=\fontsize{8}{10}\selectfont\bfseries] at (axis cs:14.76,29.35) {filtr};
\node[font=\fontsize{8}{10}\selectfont\bfseries] at (axis cs:15.26,28.9) {pračka};
\node[anchor=west, font=\fontsize{9.7}{11}\selectfont\bfseries] at (axis cs:8.05,33.5) {06.08.2009};

\end{axis}
\pgfresetboundingbox
\path[use as bounding box] (-41pt,-30.5pt) rectangle (520pt,326.5pt);
\end{tikzpicture}
\end{document}
